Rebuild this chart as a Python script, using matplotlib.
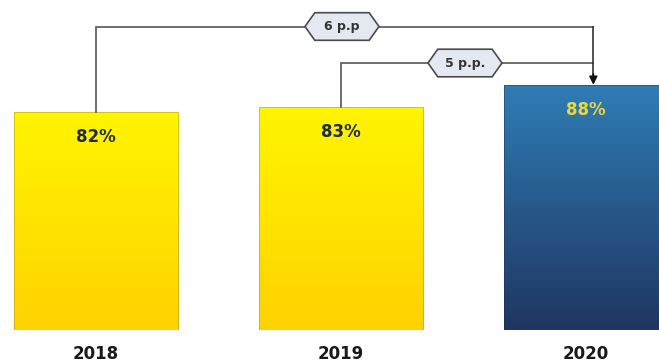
import numpy as np
from matplotlib import pyplot as plt
from matplotlib.colors import LinearSegmentedColormap
from matplotlib.patches import Polygon

# Data
years = ['2018', '2019', '2020']
values = [82, 83, 88]
value_labels = ['82%', '83%', '88%']
gap_labels = ['6 p.p', '5 p.p.']     # 2018 -> 2020, 2019 -> 2020

# Gradient colours (top, bottom)
yellow = ['#fff500', '#ffd200']
blue = ['#2f7db6', '#1f3660']
bar_colors = [yellow, yellow, blue]
label_colors = ['#1f2a44', '#1f2a44', '#ecd63c']

fig = plt.figure(figsize=(6.59, 3.63), dpi=100)
ax = fig.add_axes([0, 33 / 363, 1, 330 / 363])

x = np.arange(len(years))
width = 0.673
y0 = 32.9
bars = ax.bar(x, np.array(values) - y0, bottom=y0, width=width,
              color='none', edgecolor='none')

# Vertical gradient fill, clipped to each bar
for bar, (c_top, c_bot) in zip(bars, bar_colors):
    cmap = LinearSegmentedColormap.from_list('g', [c_bot, c_top])
    bx, by = bar.get_x(), bar.get_y()
    bw, bh = bar.get_width(), bar.get_height()
    grad = np.linspace(0, 1, 256).reshape(-1, 1)
    im = ax.imshow(grad, cmap=cmap, origin='lower', aspect='auto',
                   extent=[bx, bx + bw, by, by + bh], zorder=1)
    im.set_clip_path(bar)
    ax.add_patch(plt.Rectangle((bx, by), bw, bh, fill=False,
                               edgecolor='#9a8a30' if c_top == yellow[0] else '#1b2f50',
                               lw=0.6, alpha=0.5, zorder=2))

# Value labels just under the bar tops
for xi, v, lab, col in zip(x, values, value_labels, label_colors):
    ax.annotate(lab, (xi, v), xytext=(0, -18), textcoords='offset points',
                ha='center', va='center', fontsize=12, fontweight='bold',
                color=col, zorder=4)

# Connectors from 2018 and 2019 to 2020
levels = [max(values) + 13.1, max(values) + 4.9]
starts = [0, 1]
label_x = [1.004, 1.506]
end_x = 2.03
for s, lvl, lab, lx in zip(starts, levels, gap_labels, label_x):
    ax.plot([s, s, end_x], [values[s], lvl, lvl], color='#555555',
            lw=1.2, zorder=3, solid_joinstyle='miter')
    hw, hh, tip = 0.151, 3.1, 0.04
    hexagon = Polygon([[lx - hw, lvl], [lx - hw + tip, lvl + hh],
                       [lx + hw - tip, lvl + hh], [lx + hw, lvl],
                       [lx + hw - tip, lvl - hh], [lx - hw + tip, lvl - hh]],
                      closed=True, facecolor='#e4e9f1', edgecolor='#4a4a4a',
                      lw=1.2, zorder=5)
    ax.add_patch(hexagon)
    ax.text(lx, lvl, lab, ha='center', va='center', fontsize=9,
            fontweight='bold', color='#333333', zorder=6)

ax.plot([end_x, end_x], [levels[0], values[2] + 1.3], color='#333333',
        lw=1.2, zorder=3)
ax.annotate('', xy=(end_x, values[2]), xytext=(end_x, values[2] + 2.5),
            arrowprops=dict(arrowstyle='-|>', color='#111111', lw=1.2,
                            mutation_scale=12, shrinkA=0, shrinkB=0),
            zorder=4)

ax.set_xlim(-96 / 245, 563 / 245)
ax.set_ylim(y0, y0 + 330 / 4.45)
ax.set_xticks(x, years)
ax.tick_params(axis='x', length=0, pad=11, labelsize=12)
for t in ax.get_xticklabels():
    t.set_fontweight('bold')
    t.set_color('#1a1a1a')
ax.set_yticks([])
for sp in ax.spines.values():
    sp.set_visible(False)

fig.savefig('out.png', dpi=100)
